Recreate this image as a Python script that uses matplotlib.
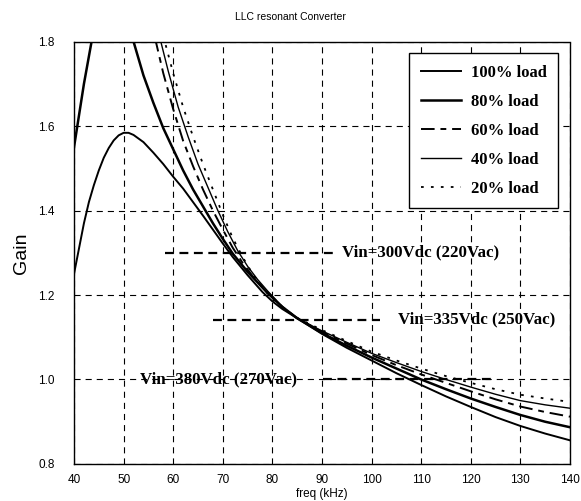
import numpy as np
import matplotlib
matplotlib.use("Agg")
import matplotlib.pyplot as plt

# gain curves (freq in kHz, gain)
f_100 = [40, 41, 42, 43, 44, 45, 46, 47, 48, 49, 50, 51, 52, 54, 56, 58, 60, 62, 64, 66, 68, 70, 72, 75,
         78, 80, 82, 85, 90, 95, 100, 105, 110, 115, 120, 125, 130, 135, 140]
g_100 = [1.25, 1.31, 1.37, 1.42, 1.46, 1.495, 1.525, 1.548, 1.566, 1.578, 1.584, 1.584, 1.579, 1.562,
         1.537, 1.51, 1.48, 1.452, 1.42, 1.388, 1.355, 1.322, 1.29, 1.247, 1.207, 1.185, 1.167, 1.145,
         1.108, 1.075, 1.045, 1.015, 0.987, 0.96, 0.935, 0.911, 0.89, 0.872, 0.856]

f_80 = [40, 41, 42, 43, 44, 46, 48, 50, 52, 54, 56, 58, 60, 62, 64, 66, 68, 70, 72, 75, 79, 82, 85, 90,
        95, 100, 105, 110, 115, 120, 125, 130, 135, 140]
g_80 = [1.55, 1.625, 1.70, 1.765, 1.83, 1.90, 1.92, 1.88, 1.80, 1.72, 1.655, 1.595, 1.545, 1.495, 1.45,
        1.41, 1.37, 1.333, 1.298, 1.255, 1.205, 1.172, 1.145, 1.11, 1.08, 1.052, 1.026, 1.0, 0.977, 0.955,
        0.935, 0.916, 0.90, 0.887]

f_60 = [55, 56.5, 58, 60, 62, 64, 66, 68, 70, 72, 74, 76, 79, 82, 85, 90, 95, 100, 105, 110, 115, 120,
        125, 130, 135, 140]
g_60 = [1.88, 1.80, 1.725, 1.64, 1.565, 1.505, 1.45, 1.40, 1.355, 1.312, 1.276, 1.245, 1.207, 1.172,
        1.145, 1.113, 1.085, 1.058, 1.034, 1.012, 0.992, 0.972, 0.953, 0.936, 0.923, 0.912]

f_40 = [56, 57.5, 59, 61, 63, 65, 67, 69, 71, 73, 75, 77, 79, 82, 85, 90, 95, 100, 105, 110, 115, 120,
        125, 130, 135, 140]
g_40 = [1.87, 1.80, 1.73, 1.645, 1.575, 1.51, 1.455, 1.40, 1.35, 1.305, 1.268, 1.237, 1.21, 1.172, 1.145,
        1.115, 1.088, 1.062, 1.04, 1.019, 1.0, 0.982, 0.965, 0.95, 0.94, 0.932]

f_20 = [57, 58.3, 60, 62, 64, 66, 68, 70, 72, 74, 76, 78, 80, 82, 85, 90, 95, 100, 105, 110, 115, 120,
        125, 130, 135, 140]
g_20 = [1.86, 1.80, 1.725, 1.645, 1.575, 1.51, 1.45, 1.39, 1.335, 1.29, 1.25, 1.218, 1.19, 1.17, 1.146,
        1.117, 1.091, 1.066, 1.045, 1.026, 1.008, 0.992, 0.977, 0.964, 0.955, 0.947]

loads = ['100% load', '80% load', '60% load', '40% load', '20% load']

# input-voltage markers
vin_labels = ['Vin=300Vdc (220Vac)', 'Vin=335Vdc (250Vac)', 'Vin=380Vdc (270Vac)']
vin_gain = [1.30, 1.142, 1.0]
vin_x0 = [58.3, 68.0, 90.2]
vin_x1 = [92.2, 101.7, 124.5]
vin_text_x = [94.0, 105.3, 53.3]

xticks = np.arange(40, 141, 10)
yticks = [0.8, 1.0, 1.2, 1.4, 1.6, 1.8]

fig = plt.figure(figsize=(5.81, 5.01), dpi=100)
ax = fig.add_axes([0.1274, 0.0739, 0.8536, 0.8431])

serif_bold = dict(family='Liberation Serif', weight='bold')

styles = [
    dict(color='black', lw=1.4, ls='-'),
    dict(color='black', lw=1.8, ls='-'),
    dict(color='black', lw=1.4, ls=(0, (7, 3, 3, 3))),
    dict(color='black', lw=1.0, ls='-'),
    dict(color='black', lw=1.3, ls=(0, (1.5, 4))),
]
curves = [(f_100, g_100), (f_80, g_80), (f_60, g_60), (f_40, g_40), (f_20, g_20)]
for (f, g), st, lab in zip(curves, styles, loads):
    ax.plot(f, g, label=lab, **st)

for lab, y, x0, x1, tx in zip(vin_labels, vin_gain, vin_x0, vin_x1, vin_text_x):
    ax.plot([x0, x1], [y, y], color='black', lw=1.6, ls=(0, (4, 2.5)))
    ax.text(tx, y, lab, ha='left', va='center', fontsize=12.2, **serif_bold)

ax.set_xlim(40, 140)
ax.set_ylim(0.8, 1.8)
ax.set_xticks(xticks)
ax.set_yticks(yticks)
ax.set_yticklabels([f'{v:.1f}' for v in yticks])
ax.tick_params(length=0, labelsize=8.5)
ax.tick_params(axis='y', pad=14)
ax.tick_params(axis='x', pad=7)
for t in ax.get_xticklabels() + ax.get_yticklabels():
    t.set_family('Liberation Sans')
ax.grid(True, color='black', lw=0.8, ls=(0, (5.5, 4.5)))
for s in ax.spines.values():
    s.set_color('black')
    s.set_linewidth(1.0)
ax.spines['right'].set_linestyle((0, (1, 1)))

ax.set_xlabel('freq (kHz)', fontsize=8.5, family='Liberation Sans', labelpad=2)
ax.set_ylabel('Gain', fontsize=14, family='Liberation Sans', labelpad=6)
fig.text(0.5, 0.966, 'LLC resonant Converter', ha='center', va='center', fontsize=7.5,
         family='Liberation Sans')

leg = ax.legend(loc='upper right', bbox_to_anchor=(0.976, 0.973), frameon=True, fancybox=False,
                framealpha=1, edgecolor='black', prop=dict(size=12, **serif_bold),
                handlelength=2.45, handletextpad=0.55, labelspacing=0.78, borderpad=0.7,
                borderaxespad=0)
leg.get_frame().set_linewidth(1.0)

fig.savefig('out.png', dpi=100)
